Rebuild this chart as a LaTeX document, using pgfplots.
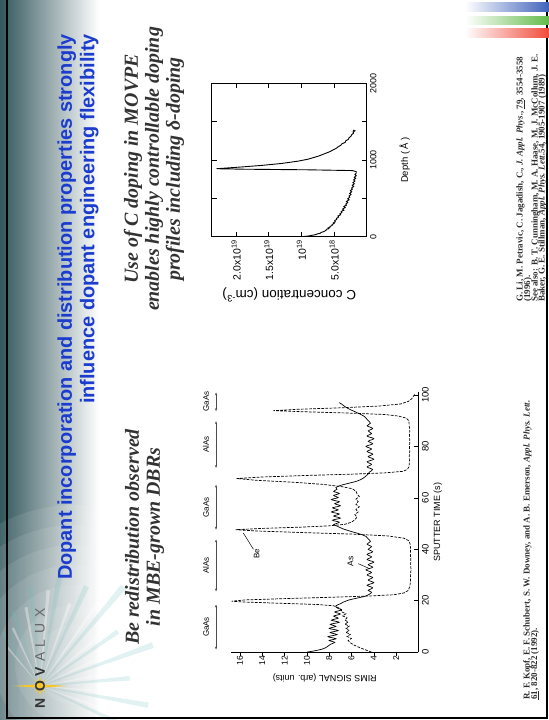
\documentclass[border=0pt]{standalone}
\usepackage{fontspec}
\setmainfont{Liberation Serif}
\newfontfamily\arial{Liberation Sans}
\usepackage{graphicx}
\usepackage{pgfplots}
\pgfplotsset{compat=1.18}
\usetikzlibrary{arrows.meta}

\definecolor{titleblue}{RGB}{28,60,205}
\definecolor{subgray}{RGB}{50,50,50}
\definecolor{refgray}{RGB}{45,45,45}
\definecolor{bandteal}{RGB}{40,78,84}
\definecolor{bandmid}{RGB}{135,170,172}
\definecolor{raycyan}{RGB}{110,190,190}
\definecolor{starY}{RGB}{245,200,40}
\definecolor{streakB}{RGB}{60,95,185}
\definecolor{streakG}{RGB}{95,185,70}
\definecolor{streakR}{RGB}{240,70,55}

\tikzset{layer/.style={line width=0.4bp, black!70, {Stealth[length=3bp,width=2.2bp]}-{Stealth[length=3bp,width=2.2bp]}},
         layerlabel/.style={font=\arial\fontsize{8}{8}\selectfont, inner sep=0},
         reftext/.style={anchor=base west, inner sep=0, text=refgray, font=\bfseries\fontsize{9}{9}\selectfont}}

\begin{document}
\rotatebox{90}{%
\begin{tikzpicture}[x=1bp,y=1bp]
\useasboundingbox (0,0) rectangle (720,549);
\begin{scope}
\clip (0,0) rectangle (720,549);
% header band
\shade[top color=bandteal, middle color=bandmid, bottom color=white] (-5,450) rectangle (725,554);
% light burst around the logo
\foreach \r in {160,140,...,20} \fill[white, opacity=0.09] (55,474) circle (\r);
\foreach \ang/\len in {-10/120,-25/110,-40/130,-55/95,-70/120,-85/90,-100/110,5/100,20/80,-115/85,35/65} {
  \fill[raycyan, opacity=0.2] (34,509) -- ++(\ang-1.5:\len) -- ++(\ang+90:{\len*0.05}) -- cycle;
  \fill[white, opacity=0.35] (34,509) -- ++(\ang+4:{\len*0.8}) -- ++(\ang+94:{\len*0.03}) -- cycle;
}
% slide frame
\draw[line width=2.5bp, black] (2,2) rectangle (740,542);
% colour streaks
\shade[top color=white, bottom color=streakB] (708,-2) rectangle (717,84);
\shade[top color=white, bottom color=streakG] (695,-2) rectangle (703,84);
\shade[top color=white, bottom color=streakR] (682,-2) rectangle (691,84);
\end{scope}

% logo
\fill[starY] (34,536) -- (35.6,512) -- (41,514) -- (37,510.5) -- (44,509) -- (37,507.5) -- (41,504) -- (35.6,506) -- (34,482) -- (32.4,506) -- (27,504) -- (31,507.5) -- (24,509) -- (31,510.5) -- (27,514) -- (32.4,512) -- cycle;
\begin{scope}[every node/.style={font=\arial\fontsize{14}{14}\selectfont, inner sep=0, anchor=center}]
\node[text=black!80] at (16.7,509) {\bfseries N};
\node[text=black!80] at (34,509) {\bfseries O};
\node[text=black!80] at (48.3,509) {\bfseries V};
\node[text=black!60] at (63.3,509) {A};
\node[text=black!60] at (76.7,509) {L};
\node[text=black!60] at (91.7,509) {U};
\node[text=black!60] at (106.7,509) {X};
\end{scope}

% title
\begin{scope}[every node/.style={font=\arial\bfseries\fontsize{20}{24}\selectfont, text=titleblue, inner sep=0, anchor=base east}]
\node at (686,477.2) {Dopant incorporation and distribution properties strongly};
\node at (686,454.5) {influence dopant engineering flexibility};
\end{scope}

% subtitles
\begin{scope}[every node/.style={font=\bfseries\itshape\fontsize{20}{22}\selectfont, text=subgray, inner sep=0, anchor=base}]
\node at (183,410) {Be redistribution observed};
\node at (183,389) {in MBE-grown DBRs};
\node at (551,411) {Use of C doping in MOVPE};
\node at (551,390) {enables highly controllable doping};
\node at (551,369) {profiles including δ-doping};
\end{scope}

% references
\node[reftext] at (20,19.5) {R. F. Kopf, E. F. Schubert, S. W. Downey, and A. B. Emerson, \textit{Appl. Phys. Lett.}};
\node[reftext] at (20,12) {\underline{61}, 820-822 (1992).};
\node[reftext] at (418,26.5) {G. Li, M. Petravic, C. Jagadish, C., \textit{J. Appl. Phys.}, \underline{79}, 3554-3558};
\node[reftext] at (418,19) {(1996).};
\node[reftext] at (418,11.5) {See also: B. T. Cunningham, M. A. Haase, M. J. McCollum, J. E.};
\node[reftext] at (418,4.5) {Baker, G. E. Stillman, \textit{Appl. Phys. Lett.}\underline{54}, 1905-1907 (1989)};

% RIMS depth profile of Be and As
\begin{axis}[
  at={(67.9bp,130.6bp)}, anchor=south west,
  scale only axis, width=259.7bp, height=187.3bp,
  xmin=0, xmax=101, ymin=0, ymax=16.8,
  axis lines*=left, axis line style={line width=0.7bp},
  xtick={0,20,...,100}, ytick={2,4,...,16},
  tick align=inside, major tick length=4bp,
  tick style={line width=0.6bp, black},
  ytick style={xshift=-4bp},
  /pgf/number format/assume math mode=true,
  x tick label style={font=\arial\fontsize{9.5}{10}\selectfont},
  y tick label style={font=\arial\fontsize{8.5}{9}\selectfont},
  xlabel={SPUTTER TIME (s)}, ylabel={RIMS SIGNAL (arb. units)},
  label style={font=\arial\fontsize{9}{10}\selectfont},
  xlabel style={at={(axis description cs:0.5,-0.103)}, anchor=center},
  ylabel style={at={(axis description cs:-0.1,0.5)}, anchor=center},
  clip=false,
]
% Be signal
\addplot[black, line width=0.7bp, dash pattern=on 2.8bp off 1.3bp] coordinates {
(0,4.2)(0.8,4.7)(1.8,5.3)(2.8,5.8)(3.6,6.1)(4.5,6.3)(5.3,6.0)(6.1,6.4)(6.9,6.1)(7.7,6.5)(8.5,6.2)(9.3,6.5)(10.1,6.2)(10.9,6.6)(11.7,6.3)(12.5,6.6)(13.3,6.4)(14.1,6.8)(14.9,6.5)(15.7,6.9)(16.5,6.9)(17.3,7.2)(18.0,7.6)(18.5,9.0)(19.0,12.5)(19.5,15.8)(19.8,16.75)(20.3,15.5)(20.8,12.0)(21.3,8.0)(21.8,4.5)(22.3,2.2)(23.0,1.3)(24.0,0.9)(26,0.75)(28,0.7)(30,0.72)(32,0.66)(34,0.7)(36,0.68)(38,0.72)(40,0.7)(42,0.74)(43.3,0.85)(44.3,1.3)(45.2,2.8)(45.9,6.0)(46.5,10.5)(47.1,14.5)(47.6,16.4)(48.1,14.0)(48.6,10.5)(49.1,8.0)(49.7,6.6)(50.5,6.0)(51.5,5.7)(52.5,5.5)(53.5,5.7)(54.5,5.4)(55.5,5.6)(56.5,5.3)(57.5,5.6)(58.5,5.4)(59.5,5.6)(60.5,5.3)(61.5,5.5)(62.5,5.6)(63.5,5.9)(64.3,6.8)(65.2,8.5)(66.0,11.0)(66.8,14.5)(67.5,16.3)(68.1,14.0)(68.7,10.0)(69.2,6.0)(69.7,3.0)(70.3,1.4)(71,1.0)(72,0.85)(74,0.8)(76,0.82)(78,0.78)(80,0.8)(82,0.77)(84,0.8)(86,0.78)(88,0.82)(90,0.85)(91,1.1)(91.8,1.8)(92.4,3.0)(93.0,6.5)(93.5,10.5)(93.9,13.0)(94.4,11.0)(95.0,7.0)(95.7,3.5)(96.5,1.6)(97.5,0.9)(98.5,0.6)(99.5,0.45)(100.5,0.3)
};
% As signal
\addplot[black, line width=0.7bp, smooth, tension=0.5] coordinates {
(0,10.0)(0.5,9.3)(1.2,8.6)(2,8.2)(3,7.9)(3.8,7.5)(4.5,8.0)(5.2,7.4)(6,8.1)(6.8,7.3)(7.6,7.9)(8.4,7.2)(9.2,8.0)(10,7.4)(10.8,7.9)(11.6,7.1)(12.4,7.8)(13.2,7.2)(14,7.6)(14.8,7.0)(15.6,7.5)(16.4,6.9)(17.2,7.3)(18,7.4)(18.8,7.0)(19.5,6.7)(20.3,6.2)(21,5.5)(21.7,4.8)(22.5,4.4)(23.3,4.2)(24,4.5)(25,4.1)(26,4.6)(27,4.0)(28,4.5)(29,4.1)(30,4.6)(31,4.2)(32,4.7)(33,4.1)(34,4.5)(35,4.0)(36,4.6)(37,4.2)(38,4.6)(39,4.1)(40,4.5)(41,4.2)(42,4.6)(43,4.3)(44,4.5)(45,4.7)(46,5.3)(47,6.1)(48,6.8)(49,7.3)(49.6,7.6)(50.5,7.1)(51.3,7.7)(52.1,7.0)(52.9,7.6)(53.7,7.1)(54.5,7.8)(55.3,7.2)(56.1,7.7)(56.9,7.0)(57.7,7.5)(58.5,7.1)(59.3,7.8)(60.1,7.2)(60.9,7.6)(61.7,7.1)(62.5,7.6)(63.3,7.3)(64,7.4)(64.8,7.0)(65.6,6.3)(66.5,5.5)(67.5,5.0)(68.5,4.7)(69.3,4.5)(70,4.4)(71,4.1)(72,4.6)(73,4.2)(74,4.6)(75,4.0)(76,4.5)(77,4.1)(78,4.6)(79,4.2)(80,4.7)(81,4.1)(82,4.5)(83,4.0)(84,4.6)(85,4.2)(86,4.5)(87,4.1)(88,4.6)(89,4.3)(90,4.5)(91,4.7)(91.8,4.9)(92.5,5.2)(93.5,5.7)(94.5,6.2)(95.5,6.6)(96.5,6.9)(97,7.1)
};
% curve labels
\node[font=\arial\fontsize{8}{8}\selectfont] at (axis cs:38.2,14.5) {Be};
\draw[line width=0.5bp] (axis cs:40.0,14.8) -- (axis cs:46.3,15.7);
\node[font=\arial\fontsize{8.5}{8.5}\selectfont] at (axis cs:35.3,6.1) {As};
\draw[line width=0.5bp] (axis cs:34.4,5.4) -- (axis cs:32.4,4.35);
% layer sequence
\draw[layer] (axis cs:1,18.15) -- (axis cs:18.5,18.15);
\draw[layer] (axis cs:23.6,18.15) -- (axis cs:43.8,18.15);
\draw[layer] (axis cs:47.6,18.15) -- (axis cs:65.1,18.15);
\draw[layer] (axis cs:71.6,18.15) -- (axis cs:89.8,18.15);
\draw[layer] (axis cs:93.7,18.15) -- (axis cs:101,18.15);
\node[layerlabel] at (axis cs:9.75,19.05) {GaAs};
\node[layerlabel] at (axis cs:33.7,19.05) {AlAs};
\node[layerlabel] at (axis cs:56.3,19.05) {GaAs};
\node[layerlabel] at (axis cs:80.7,19.05) {AlAs};
\node[layerlabel] at (axis cs:97.4,19.05) {GaAs};
\end{axis}

% carbon delta-doping profile
\begin{axis}[
  at={(483.3bp,182.3bp)}, anchor=south west,
  scale only axis, width=153.4bp, height=155bp,
  xmin=0, xmax=2000, ymin=0, ymax=2.374,
  xtick={0,500,...,2000}, xticklabels={0,,1000,,2000},
  ytick={0.5,1,1.5,2},
  yticklabels={5.0x10\textsuperscript{18},10\textsuperscript{19},1.5x10\textsuperscript{19},2.0x10\textsuperscript{19}},
  scaled ticks=false,
  tick align=inside, major tick length=5bp,
  tick style={line width=0.7bp, black},
  axis line style={line width=0.8bp},
  x tick label style={font=\arial\fontsize{9}{9}\selectfont},
  y tick label style={font=\arial\fontsize{10.5}{11}\selectfont},
  xlabel={Depth ( Å )}, ylabel={C concentration (cm\textsuperscript{-3})},
  xlabel style={font=\arial\fontsize{9.5}{10}\selectfont, at={(axis description cs:0.5,-0.245)}, anchor=center},
  ylabel style={font=\arial\fontsize{13.5}{14}\selectfont, at={(axis description cs:-0.38,0.5)}, anchor=center},
]
\addplot[black, line width=0.9bp] coordinates {
(0,1.0)(8,0.9)(16,0.85)(25,0.79)(35,0.76)(45,0.71)(55,0.70)(65,0.66)(75,0.64)(85,0.62)(95,0.62)(105,0.58)(115,0.59)(125,0.56)(135,0.56)(145,0.53)(160,0.53)(170,0.50)(180,0.51)(195,0.48)(210,0.49)(225,0.46)(240,0.46)(255,0.43)(270,0.44)(285,0.40)(300,0.41)(315,0.38)(330,0.39)(345,0.35)(360,0.37)(380,0.33)(395,0.35)(410,0.31)(425,0.32)(445,0.29)(460,0.31)(480,0.27)(495,0.29)(515,0.26)(530,0.27)(550,0.24)(565,0.26)(585,0.23)(600,0.25)(620,0.22)(635,0.23)(655,0.20)(670,0.22)(690,0.19)(705,0.21)(725,0.18)(740,0.20)(760,0.17)(775,0.19)(795,0.16)(810,0.18)(830,0.16)(848,0.16)(862,0.22)(872,0.9)(880,1.9)(886,2.30)(895,2.15)(910,1.9)(930,1.6)(955,1.3)(985,1.05)(1010,0.90)(1030,0.82)(1050,0.74)(1070,0.68)(1090,0.62)(1110,0.56)(1130,0.52)(1150,0.47)(1170,0.44)(1190,0.40)(1210,0.38)(1230,0.33)(1250,0.32)(1270,0.28)(1290,0.27)(1310,0.24)(1330,0.23)(1350,0.20)(1365,0.21)(1380,0.18)(1390,0.21)
};
\end{axis}
\end{tikzpicture}}
\end{document}
